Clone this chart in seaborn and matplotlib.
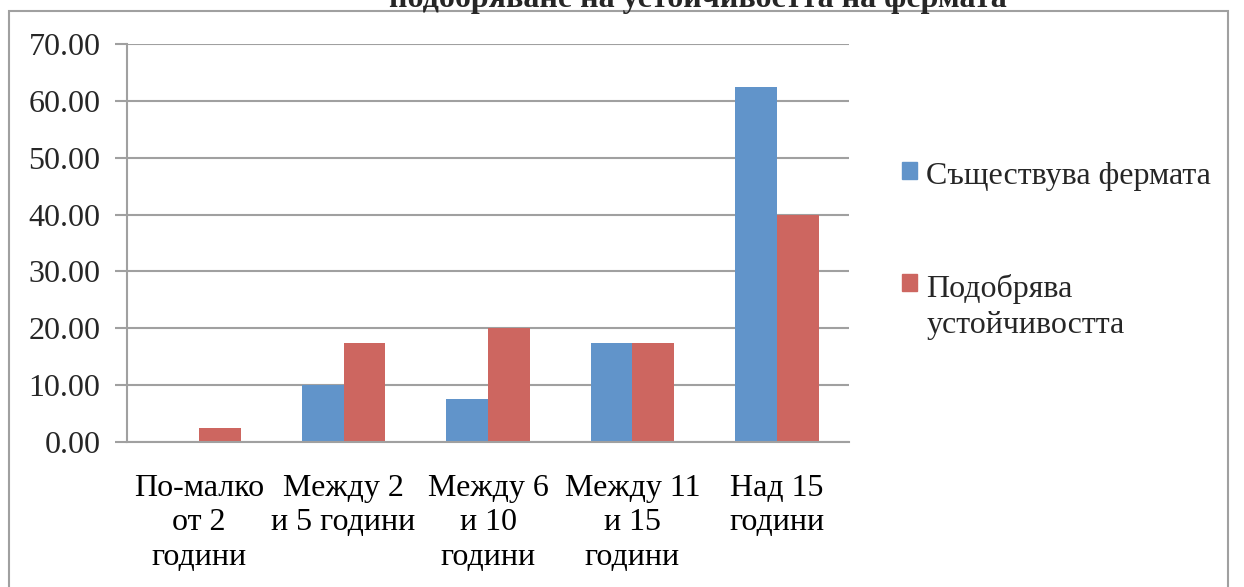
import matplotlib
matplotlib.use("Agg")
import matplotlib.pyplot as plt
import numpy as np
import pandas as pd
import seaborn as sns
from matplotlib.patches import Rectangle

categories = [
    "По-малко\nот 2\nгодини",
    "Между 2\nи 5 години",
    "Между 6\nи 10\nгодини",
    "Между 11\nи 15\nгодини",
    "Над 15\nгодини",
]
series_names = ["Съществува фермата", "Подобрява\nустойчивостта"]
farm_exists = [0.0, 10.0, 7.5, 17.5, 62.5]
improves = [2.5, 17.5, 20.0, 17.5, 40.0]
title = "подобряване на устойчивостта на фермата"

colors = ["#6194CA", "#CD6660"]
grid_color = "#A0A0A0"

df = pd.DataFrame(
    {
        "category": categories * 2,
        "series": [series_names[0]] * len(categories) + [series_names[1]] * len(categories),
        "value": farm_exists + improves,
    }
)

sns.set_theme(style="white")
plt.rcParams["font.family"] = ["Liberation Serif", "DejaVu Serif"]

W, H = 1244, 587
fig = plt.figure(figsize=(W / 100, H / 100), dpi=100)
ax = fig.add_axes([127 / W, 1 - 442 / H, 722 / W, 398 / H])

sns.barplot(
    data=df,
    x="category",
    y="value",
    hue="series",
    order=categories,
    hue_order=series_names,
    palette=colors,
    width=0.58,
    gap=0,
    saturation=1,
    ax=ax,
    legend=True,
)
for bar in ax.patches:
    bar.set_edgecolor("none")

ax.set_xlim(-0.5, len(categories) - 0.5)
ax.set_ylim(0, 70)
ax.set_yticks(np.arange(0, 71, 10))
ax.set_yticklabels([f"{v:.2f}" for v in np.arange(0, 71, 10)])
ax.set_xlabel("")
ax.set_ylabel("")

ax.set_xticks(np.arange(len(categories)))
ax.set_xticklabels(categories, linespacing=1.25)
ax.set_xticks(np.arange(-0.5, len(categories)), minor=True)
ax.tick_params(axis="x", which="major", length=0, pad=23, labelsize=23, colors="black")
ax.tick_params(axis="x", which="minor", length=8, width=1.5, color=grid_color, direction="out")
ax.tick_params(axis="y", length=9, width=1.5, color=grid_color, direction="out", pad=10,
               labelsize=23, left=True)

ax.yaxis.grid(True, color=grid_color, linewidth=1.5)
ax.set_axisbelow(True)
for side in ["top", "right"]:
    ax.spines[side].set_visible(False)
for side in ["left", "bottom"]:
    ax.spines[side].set_color(grid_color)
    ax.spines[side].set_linewidth(1.5)

ax.legend_.remove()
handles = [Rectangle((0, 0), 1, 1, color=c) for c in colors]
leg = fig.legend(
    handles,
    series_names,
    loc="upper left",
    bbox_to_anchor=(902 / W, 1 - 162 / H),
    frameon=False,
    fontsize=23,
    handlelength=0.46,
    handleheight=0.46,
    handletextpad=0.3,
    labelspacing=2.6,
    borderpad=0,
    borderaxespad=0,
)
for t in leg.get_texts():
    t.set_linespacing(1.3)
# put the square next to the first line of a two-line label
for column in leg._legend_handle_box.get_children():
    for item in column.get_children():
        item.align = "top"

fig.text(698 / W, 1 - 7 / H, title, ha="center", va="baseline", fontsize=23, weight="bold")

frame = Rectangle((8.5 / W, -0.01), (1228 - 8.5) / W, 1.01 - 11 / H, transform=fig.transFigure,
                  fill=False, edgecolor=grid_color, linewidth=1.5)
fig.patches.append(frame)

fig.savefig("out.png", dpi=100)
